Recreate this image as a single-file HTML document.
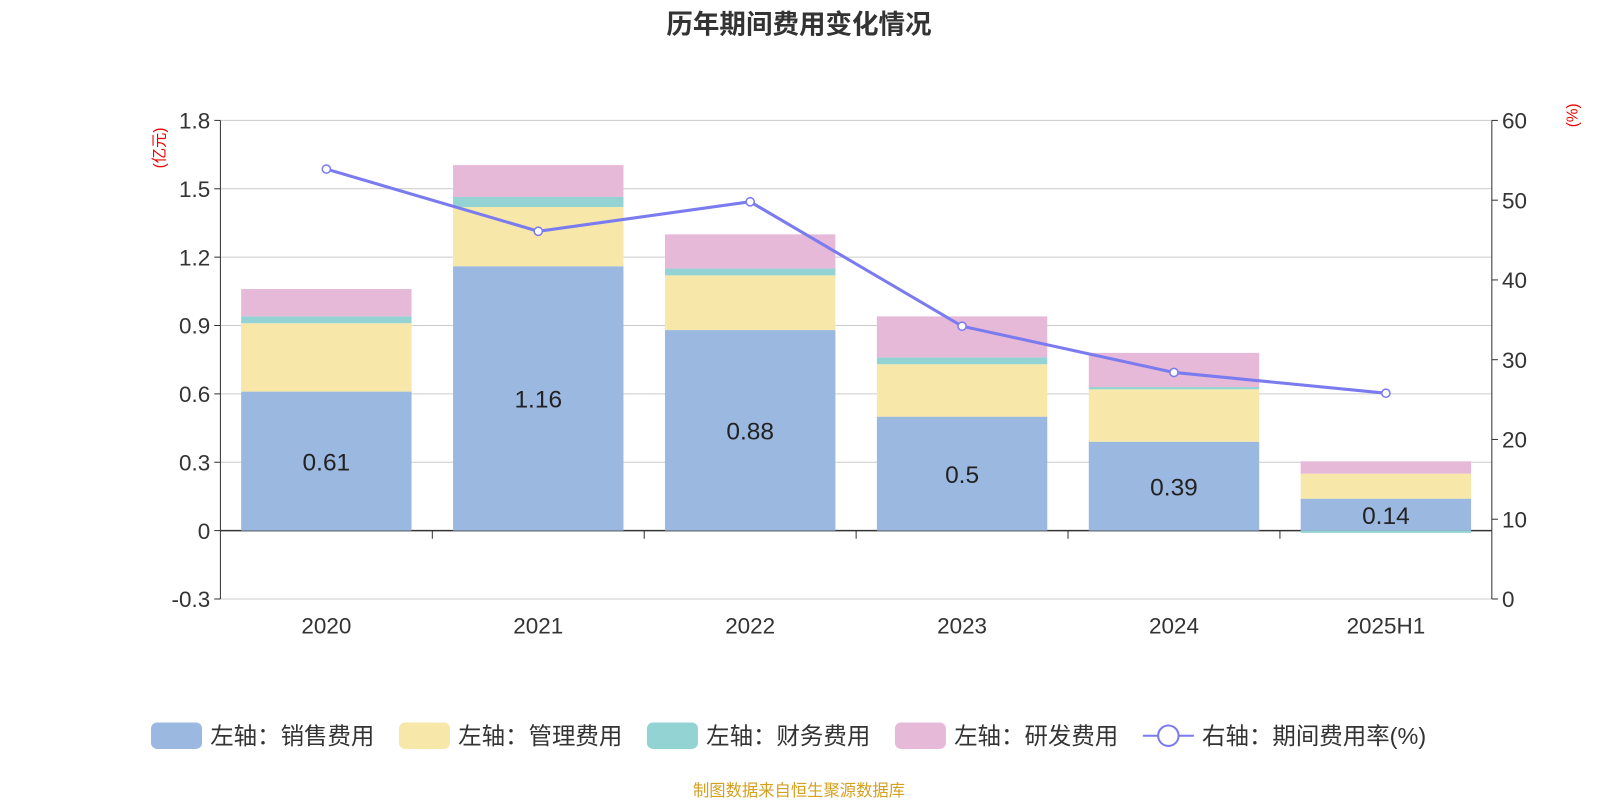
<!DOCTYPE html>
<html><head><meta charset="utf-8">
<style>
body{margin:0;width:1600px;height:800px;background:#fff;font-family:"Liberation Sans","Noto Sans CJK SC",sans-serif;overflow:hidden}
svg text{font-family:"Liberation Sans","Noto Sans CJK SC",sans-serif}
</style></head><body>
<svg id="chart" width="1600" height="800" viewBox="0 0 1568 784" xmlns="http://www.w3.org/2000/svg">
<text x="783" y="33" text-anchor="middle" font-size="26" font-weight="bold" fill="#333">历年期间费用变化情况</text>
<text transform="translate(161,145) rotate(-90)" text-anchor="middle" font-size="15" fill="#e00">(亿元)</text>
<text transform="translate(1546,113) rotate(-90)" text-anchor="middle" font-size="15" fill="#e00">(%)</text>
<g id="grid"></g><g id="bars"></g><g id="axes"></g><g id="line"></g>
<g font-size="23" fill="#333">
<rect x="148" y="708" width="50" height="26" rx="6" fill="#9bb8e0"/>
<text x="206" y="729">左轴：销售费用</text>
<rect x="391" y="708" width="50" height="26" rx="6" fill="#f7e7a9"/>
<text x="449" y="729">左轴：管理费用</text>
<rect x="634" y="708" width="50" height="26" rx="6" fill="#94d3d3"/>
<text x="692" y="729">左轴：财务费用</text>
<rect x="877" y="708" width="50" height="26" rx="6" fill="#e6b9d9"/>
<text x="935" y="729">左轴：研发费用</text>
<line x1="1120" y1="721" x2="1170" y2="721" stroke="#7b7bf0" stroke-width="2"/>
<circle cx="1145" cy="721" r="10" fill="#fff" stroke="#7b7bf0" stroke-width="2"/>
<text x="1178" y="729">右轴：期间费用率(%)</text>
</g>
<text x="783" y="780" text-anchor="middle" font-size="16" fill="#d4a020">制图数据来自恒生聚源数据库</text>
</svg>
<script>
const categories=["2020","2021","2022","2023","2024","2025H1"];
const sales=[0.61,1.16,0.88,0.5,0.39,0.14];
const mgmt=[0.30,0.26,0.24,0.23,0.23,0.11];
const fin=[0.03,0.044,0.03,0.03,0.01,-0.01];
const rd=[0.12,0.14,0.15,0.18,0.15,0.054];
const rate=[53.9,46.1,49.8,34.2,28.4,25.8];
const leftTicks=[-0.3,0,0.3,0.6,0.9,1.2,1.5,1.8];
const rightTicks=[0,10,20,30,40,50,60];
const NS="http://www.w3.org/2000/svg";
const X0=216,X1=1462,band=(X1-X0)/categories.length,bw=167;
const yL=v=>520-v*(402/1.8);
const yR=v=>587-v*(469/60);
const xC=i=>X0+band*(i+0.5);
function mk(tag,attrs,parent){const e=document.createElementNS(NS,tag);for(const k in attrs)e.setAttribute(k,attrs[k]);document.getElementById(parent).appendChild(e);return e;}
leftTicks.forEach(t=>{
 const g=mk("line",{x1:X0,x2:X1,y1:yL(t),y2:yL(t),stroke:t===0?"#333":"#ccc","stroke-width":t===0?1.5:1},"grid");
 
 
 mk("line",{x1:X0-6,x2:X0,y1:yL(t),y2:yL(t),stroke:"#333"},"axes");
 const tx=mk("text",{x:X0-10,y:yL(t)+8,"text-anchor":"end","font-size":22,fill:"#333"},"axes");
 tx.textContent=t===0?"0":t.toFixed(1);
 
 
});
rightTicks.forEach(t=>{
 mk("line",{x1:X1,x2:X1+6,y1:yR(t),y2:yR(t),stroke:"#333"},"axes");
 const tx=mk("text",{x:X1+10,y:yR(t)+8,"font-size":22,fill:"#333"},"axes");
 tx.textContent=t;
 
 
});
mk("line",{x1:X0,x2:X0,y1:118,y2:587,stroke:"#333"},"axes");
mk("line",{x1:X1,x2:X1,y1:118,y2:587,stroke:"#333"},"axes");
categories.forEach((c,i)=>{
 if(i>0) mk("line",{x1:X0+band*i,x2:X0+band*i,y1:520,y2:528,stroke:"#333"},"axes");
 const tx=mk("text",{x:xC(i),y:621,"text-anchor":"middle","font-size":22,fill:"#333"},"axes");
 tx.textContent=c;
 
 
 let pos=0,neg=0;
 [[sales,"#9bb8e0","sales"],[mgmt,"#f7e7a9","mgmt"],[fin,"#94d3d3","fin"],[rd,"#e6b9d9","rd"]].forEach(([arr,col,nm])=>{
  const v=arr[i];let y0,y1;
  if(v>=0){y0=pos;y1=pos+v;pos=y1;}else{y0=neg;y1=neg+v;neg=y1;}
  const top=Math.min(yL(y0),yL(y1)),h=Math.abs(yL(y1)-yL(y0));
  const r=mk("rect",{x:xC(i)-bw/2,y:top,width:bw,height:h,fill:col},"bars");
  
  
 });
 const lb=mk("text",{x:xC(i),y:yL(sales[i]/2)+9,"text-anchor":"middle","font-size":24,fill:"#222"},"bars");
 lb.textContent=sales[i];
 
 
});
const pts=rate.map((v,i)=>xC(i)+","+yR(v)).join(" ");
const pl=mk("polyline",{points:pts,fill:"none",stroke:"#7b7bf0","stroke-width":3},"line");


rate.forEach((v,i)=>{
 const c=mk("circle",{cx:xC(i),cy:yR(v),r:4,fill:"#fff",stroke:"#7b7bf0","stroke-width":1.5},"line");
 
 
});
</script>
</body></html>
